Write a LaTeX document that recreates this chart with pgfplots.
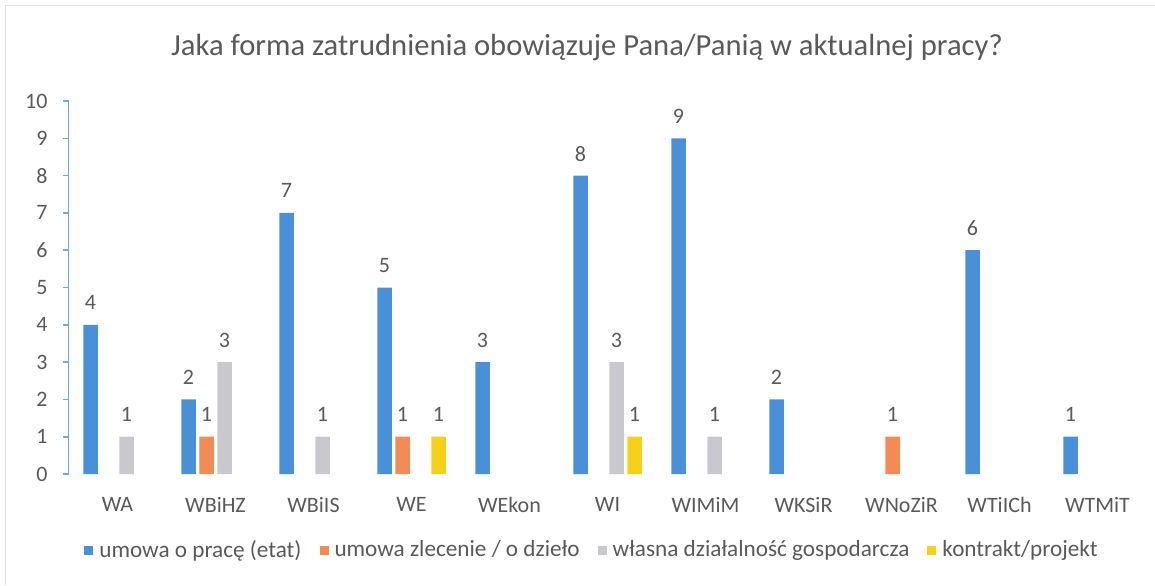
\documentclass[border=0pt]{standalone}
\usepackage{pgfplots}
\pgfplotsset{compat=1.18}
\usepackage{fontspec}
\setmainfont{Carlito}
\definecolor{cblue}{HTML}{4A90D9}
\definecolor{corange}{HTML}{F28B54}
\definecolor{cgray}{HTML}{C8C8CE}
\definecolor{cyellow}{HTML}{F7D117}
\definecolor{ctext}{HTML}{595959}
\definecolor{caxis}{HTML}{6FA8DC}
\begin{document}
\begin{tikzpicture}
\useasboundingbox (0,0) rectangle (577.5pt,292.5pt);
\draw[gray!25] (2.5pt,0) -- (2.5pt,290pt) -- (577.5pt,290pt);
\node[text=ctext, font=\fontsize{15.3}{18}\selectfont] at (293.5pt,268.5pt)
  {Jaka forma zatrudnienia obowiązuje Pana/Panią w aktualnej pracy?};
\begin{axis}[
    at={(34.25pt,55.5pt)}, anchor=south west,
    scale only axis,
    width=539pt, height=186.5pt,
    ybar=1.75pt, bar width=7.25pt,
    xmin=-0.5, xmax=10.5,
    ymin=0, ymax=10,
    xtick={0,...,10},
    xticklabels={WA,WBiHZ,WBiIS,WE,WEkon,WI,WIMiM,WKSiR,WNoZiR,WTiICh,WTMiT},
    ytick={0,...,10},
    axis x line=bottom, axis y line=left,
    axis line style={-},
    x axis line style={draw=none},
    y axis line style={draw=caxis, line width=0.8pt},
    xtick style={draw=none},
    ytick style={draw=caxis, line width=0.8pt},
    tick align=outside, major tick length=3pt,
    /pgf/number format/assume math mode=true,
    tick label style={text=ctext, font=\fontsize{11}{13}\selectfont},
    xticklabel style={yshift=-5pt},
    yticklabel style={xshift=-4pt},
    nodes near coords,
    every node near coord/.append style={text=ctext, font=\fontsize{11}{13}\selectfont, anchor=center, yshift=11pt},
    legend columns=4,
    legend style={draw=none, fill=none, at={(0.4865,-0.2038)}, anchor=center,
        font=\fontsize{11.6}{14}\selectfont, text=ctext,
        /tikz/every odd column/.append style={column sep=1pt},
        /tikz/every even column/.append style={column sep=7pt}},
    legend image code/.code={\fill[#1] (0pt,-2.25pt) rectangle (4.5pt,2.25pt);},
]
\addplot[fill=cblue, draw=none] coordinates {
    (0,4) (1,2) (2,7) (3,5) (4,3) (5,8) (6,9) (7,2) (9,6) (10,1)
};
\addplot[fill=corange, draw=none] coordinates {
    (1,1) (3,1) (8,1)
};
\addplot[fill=cgray, draw=none] coordinates {
    (0,1) (1,3) (2,1) (5,3) (6,1)
};
\addplot[fill=cyellow, draw=none] coordinates {
    (3,1) (5,1)
};
\legend{umowa o pracę (etat), umowa zlecenie / o dzieło, własna działalność gospodarcza, kontrakt/projekt}
\end{axis}
\end{tikzpicture}
\end{document}
